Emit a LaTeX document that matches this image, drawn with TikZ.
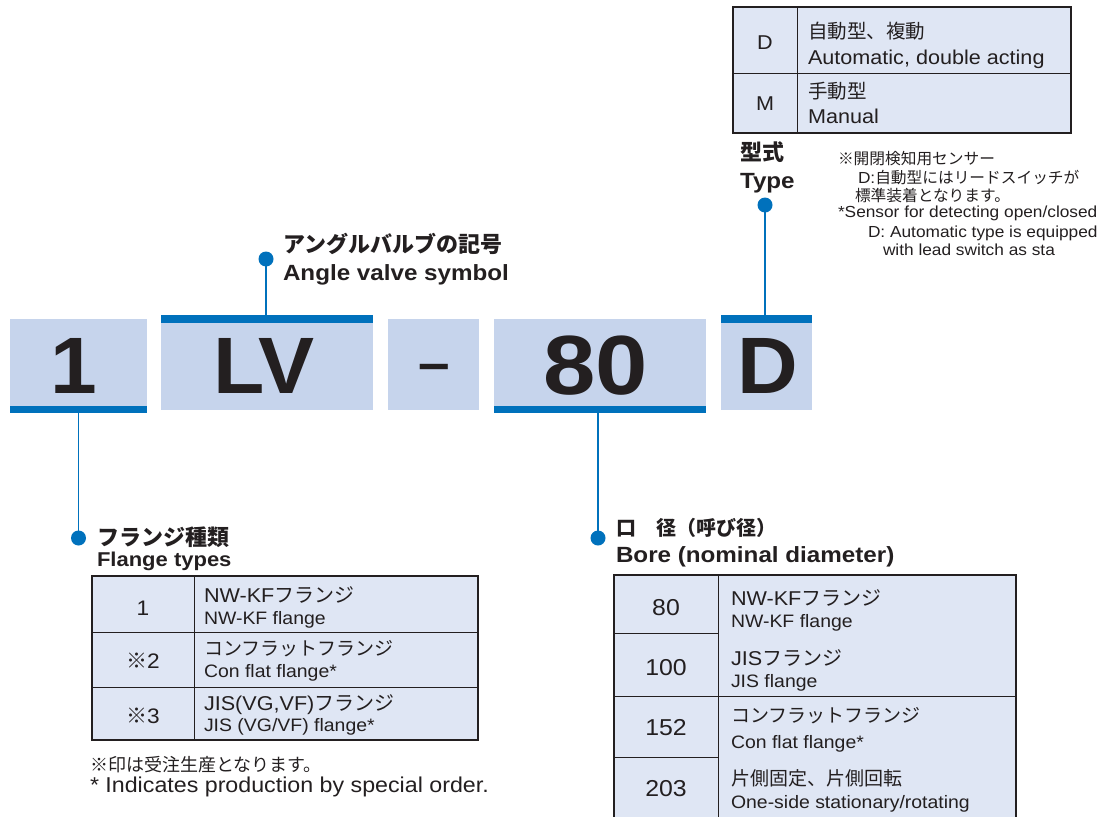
\documentclass[tikz,border=0pt]{standalone}
\usepackage{fontspec}
\setmainfont[FakeStretch=1.08]{Liberation Sans}
\newfontfamily\hdfont[FakeStretch=1.1]{Liberation Sans}
\newfontfamily\codefont[FakeStretch=1.05]{Liberation Sans}
\newfontfamily\codewide[FakeStretch=1.12]{Liberation Sans}
\newfontfamily\jp{Noto Sans CJK JP}
\newcommand\fsz[1]{\fontsize{#1}{#1}\selectfont}
\newcommand\J[1]{{\jp #1}}
\definecolor{boxfill}{HTML}{C6D4EC}
\definecolor{tabfill}{HTML}{DFE6F4}
\definecolor{barblue}{HTML}{0071BC}
\definecolor{ink}{HTML}{231F20}
\begin{document}
\begin{tikzpicture}[x=1pt,y=-1pt,
  every node/.style={inner sep=0pt, outer sep=0pt, text=ink},
  codebox/.style={fill=boxfill},
  bluebar/.style={fill=barblue},
  dotmark/.style={circle, fill=barblue, minimum size=15pt},
  lead/.style={draw=barblue, line width=1.4pt},
  codetxt/.style={anchor=base, font=\codefont\bfseries\fsz{80}},
  tabframe/.style={draw=ink, line width=2pt, fill=tabfill},
  tabline/.style={draw=ink, line width=1pt},
  hdjp/.style={anchor=base west, font=\jp\bfseries\fsz{22}},
  hden/.style={anchor=base west, font=\hdfont\bfseries\fsz{22}},
  lineA/.style={anchor=base west, font=\fsz{20}},
  lineB/.style={anchor=base west, font=\fsz{18}},
  numtxt/.style={anchor=base, font=\fsz{21}},
  notetxt/.style={anchor=base west, font=\fsz{16}}
]
\path[use as bounding box] (0,0) rectangle (1110,816);
\clip (0,0) rectangle (1110,816);

% ---------- code boxes ----------
\node[codebox, minimum width=137pt, minimum height=87pt] (box1) at (78.5,362.5) {};
\node[bluebar, minimum width=137pt, minimum height=7pt] (bar1) at (78.5,409.5) {};
\node[bluebar, minimum width=212pt, minimum height=8pt] (barLV) at (267,319) {};
\node[codebox, minimum width=212pt, minimum height=87pt] (boxLV) at (267,366.5) {};
\node[codebox, minimum width=91pt, minimum height=91pt] (boxdash) at (433.5,364.5) {};
\node[codebox, minimum width=212pt, minimum height=87pt] (box80) at (600,362.5) {};
\node[bluebar, minimum width=212pt, minimum height=7pt] (bar80) at (600,409.5) {};
\node[bluebar, minimum width=91pt, minimum height=8pt] (barD) at (766.5,319) {};
\node[codebox, minimum width=91pt, minimum height=87pt] (boxD) at (766.5,366.5) {};

\node[codetxt] (t1) at (74,393) {1};
\node[codetxt] (tLV) at (264,393) {LV};
\node[anchor=base, font=\codefont\bfseries\fsz{54}] (tdash) at (434,381) {–};
\node[codetxt, font=\codewide\bfseries\fsz{84}] (t80) at (596,394) {80};
\node[codetxt] (tD) at (768,393) {D};

% ---------- dots and leads ----------
\node[dotmark] (dotLV) at (266,259) {};
\node[dotmark] (dot1) at (78.5,538) {};
\node[dotmark] (dot80) at (598,538) {};
\node[dotmark] (dotD) at (765,205) {};
\draw[lead] (dotLV.center) -- (dotLV.center |- barLV.north);
\draw[lead] (dot1.center) -- (dot1.center |- bar1.south);
\draw[lead] (dot80.center) -- (dot80.center |- bar80.south);
\draw[lead] (dotD.center) -- (dotD.center |- barD.north);

% ---------- headings ----------
\node[hdjp] (hLVj) at (283,252) {アングルバルブの記号};
\node[hden] (hLVe) at (283,280) {Angle valve symbol};
\node[hdjp] (hTj) at (740,160) {型式};
\node[hden] (hTe) at (740,188) {Type};
\node[hdjp] (hFj) at (97,545) {フランジ種類};
\node[hden, font=\hdfont\bfseries\fsz{20}] (hFe) at (97,566) {Flange types};
\node[hdjp, font=\jp\bfseries\fsz{20}] (hBj) at (616,535) {口　径（呼び径）};
\node[hden] (hBe) at (616,562) {Bore (nominal diameter)};

% ---------- sensor note ----------
\node[notetxt, font=\jp\fsz{15.7}] (n1) at (838,164) {※開閉検知用センサー};
\node[notetxt] (n2) at (858,183) {D:\J{\fsz{15.7}自動型にはリードスイッチが}};
\node[notetxt, font=\jp\fsz{15.7}] (n3) at (855,201) {標準装着となります。};
\node[notetxt] (n4) at (838,217) {*Sensor for detecting open/closed};
\node[notetxt] (n5) at (868,237) {D: Automatic type is equipped};
\node[notetxt] (n6) at (883,255) {with lead switch as sta};

% ---------- type table ----------
\node[tabframe, minimum width=338pt, minimum height=126pt] (tabT) at (902,70) {};
\draw[tabline] (797,7) -- (797,133);
\draw[tabline] (733,73) -- (1071,73);
\node[numtxt, font=\fsz{20}] (tTD) at (765,50) {D};
\node[numtxt, font=\fsz{20}] (tTM) at (765,110) {M};
\node[lineA, font=\jp\fsz{19.5}] (tT1j) at (808,38) {自動型、複動};
\node[lineA] (tT1e) at (808,64) {Automatic, double acting};
\node[lineA, font=\jp\fsz{19.5}] (tT2j) at (808,98) {手動型};
\node[lineA] (tT2e) at (808,123) {Manual};

% ---------- flange table ----------
\node[tabframe, minimum width=386pt, minimum height=164pt] (tabF) at (285,658) {};
\draw[tabline] (194,576) -- (194,740);
\draw[tabline] (92,632) -- (478,632);
\draw[tabline] (92,687) -- (478,687);
\node[numtxt] (f1) at (143,615) {1};
\node[numtxt] (f2) at (143,668) {\J{※}2};
\node[numtxt] (f3) at (143,723) {\J{※}3};
\node[lineA] (f1j) at (204,602) {NW-KF\J{フランジ}};
\node[lineB] (f1e) at (204,624) {NW-KF flange};
\node[lineA, font=\jp\fsz{19}] (f2j) at (204,655) {コンフラットフランジ};
\node[lineB] (f2e) at (204,677) {Con flat flange*};
\node[lineA] (f3j) at (204,710) {JIS(VG,VF)\J{フランジ}};
\node[lineB] (f3e) at (204,731) {JIS (VG/VF) flange*};
\node[lineA, font=\jp\fsz{18}] (fn1) at (90,771) {※印は受注生産となります。};
\node[lineA, font=\fsz{21.5}] (fn2) at (90,792) {* Indicates production by special order.};

% ---------- bore table ----------
\node[tabframe, minimum width=402pt, minimum height=260pt] (tabB) at (815,705) {};
\draw[tabline] (718,575) -- (718,835);
\draw[tabline] (614,633) -- (718,633);
\draw[tabline] (614,696) -- (1016,696);
\draw[tabline] (614,757) -- (718,757);
\node[numtxt, font=\fsz{23}] (b1) at (666,615) {80};
\node[numtxt, font=\fsz{23}] (b2) at (666,675) {100};
\node[numtxt, font=\fsz{23}] (b3) at (666,735) {152};
\node[numtxt, font=\fsz{23}] (b4) at (666,796) {203};
\node[lineA] (b1j) at (731,605) {NW-KF\J{フランジ}};
\node[lineB] (b1e) at (731,627) {NW-KF flange};
\node[lineA] (b2j) at (731,665) {JIS\J{フランジ}};
\node[lineB] (b2e) at (731,687) {JIS flange};
\node[lineA, font=\jp\fsz{19}] (b3j) at (731,722) {コンフラットフランジ};
\node[lineB] (b3e) at (731,748) {Con flat flange*};
\node[lineA, font=\jp\fsz{19}] (b4j) at (731,785) {片側固定、片側回転};
\node[lineB] (b4e) at (731,808) {One-side stationary/rotating};
\end{tikzpicture}
\end{document}
